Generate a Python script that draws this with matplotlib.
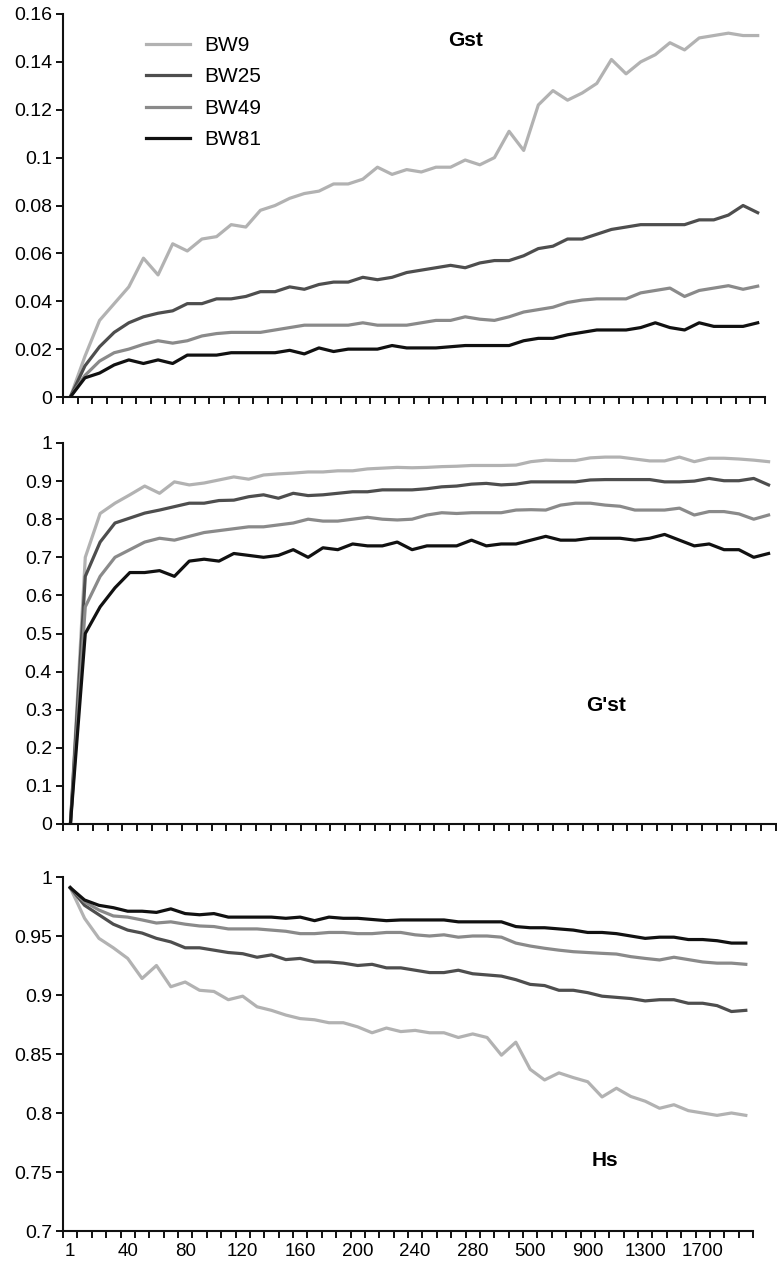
# -*- coding: utf-8 -*-

# Gst, G'st and Hs over generations for four breeding-window sizes

import matplotlib
matplotlib.use("Agg")
import matplotlib.pyplot as plt
import numpy as np

plt.rcParams['font.family'] = ['Liberation Sans', 'DejaVu Sans']

# category axis (generation)
GENERATIONS = [1, 10, 20, 30, 40, 50, 60, 70, 80, 90, 100, 110, 120, 130, 140, 150,
               160, 170, 180, 190, 200, 210, 220, 230, 240, 250, 260, 270, 280, 290, 300,
               400, 500, 600, 700, 800, 900, 1000, 1100, 1200, 1300, 1400, 1500, 1600,
               1700, 1800, 1900, 2000]
LABEL_EVERY = 4

SERIES = ["BW9", "BW25", "BW49", "BW81"]
COLORS = ["#b2b2b2", "#4e4e4e", "#8a8a8a", "#111111"]

gst_bw9 = [0.0, 0.017, 0.032, 0.039, 0.046, 0.058, 0.051, 0.064, 0.061, 0.066, 0.067, 0.072,
           0.071, 0.078, 0.080, 0.083, 0.085, 0.086, 0.089, 0.089, 0.091, 0.096, 0.093, 0.095,
           0.094, 0.096, 0.096, 0.099, 0.097, 0.100, 0.111, 0.103, 0.122, 0.128, 0.124, 0.127,
           0.131, 0.141, 0.135, 0.140, 0.143, 0.148, 0.145, 0.150, 0.151, 0.152, 0.151, 0.151]
gst_bw25 = [0.0, 0.013, 0.021, 0.027, 0.031, 0.0335, 0.035, 0.036, 0.039, 0.039, 0.041, 0.041,
            0.042, 0.044, 0.044, 0.046, 0.045, 0.047, 0.048, 0.048, 0.050, 0.049, 0.050, 0.052,
            0.053, 0.054, 0.055, 0.054, 0.056, 0.057, 0.057, 0.059, 0.062, 0.063, 0.066, 0.066,
            0.068, 0.070, 0.071, 0.072, 0.072, 0.072, 0.072, 0.074, 0.074, 0.076, 0.080, 0.077]
gst_bw49 = [0.0, 0.009, 0.015, 0.0185, 0.020, 0.022, 0.0235, 0.0225, 0.0235, 0.0255, 0.0265, 0.027,
            0.027, 0.027, 0.028, 0.029, 0.030, 0.030, 0.030, 0.030, 0.031, 0.030, 0.030, 0.030,
            0.031, 0.032, 0.032, 0.0335, 0.0325, 0.032, 0.0335, 0.0355, 0.0365, 0.0375, 0.0395, 0.0405,
            0.041, 0.041, 0.041, 0.0435, 0.0445, 0.0455, 0.042, 0.0445, 0.0455, 0.0465, 0.045, 0.0463]
gst_bw81 = [0.0, 0.008, 0.010, 0.0134, 0.0155, 0.014, 0.0155, 0.014, 0.0175, 0.0175, 0.0175, 0.0185,
            0.0185, 0.0185, 0.0185, 0.0195, 0.018, 0.0205, 0.019, 0.020, 0.020, 0.020, 0.0215, 0.0205,
            0.0205, 0.0205, 0.021, 0.0215, 0.0215, 0.0215, 0.0215, 0.0235, 0.0245, 0.0245, 0.026, 0.027,
            0.028, 0.028, 0.028, 0.029, 0.031, 0.029, 0.028, 0.031, 0.0295, 0.0295, 0.0295, 0.031]

gpst_bw9 = [0.0, 0.70, 0.815, 0.842, 0.864, 0.887, 0.868, 0.898, 0.890, 0.895, 0.903, 0.911,
            0.905, 0.916, 0.919, 0.921, 0.924, 0.924, 0.927, 0.927, 0.932, 0.934, 0.936, 0.935,
            0.936, 0.938, 0.939, 0.941, 0.941, 0.941, 0.942, 0.951, 0.955, 0.954, 0.954, 0.961,
            0.963, 0.963, 0.958, 0.953, 0.953, 0.963, 0.951, 0.960, 0.960, 0.958, 0.955, 0.951]
gpst_bw25 = [0.0, 0.65, 0.74, 0.79, 0.803, 0.816, 0.824, 0.833, 0.842, 0.842, 0.849, 0.850,
             0.859, 0.864, 0.855, 0.868, 0.862, 0.864, 0.868, 0.872, 0.872, 0.877, 0.877, 0.877,
             0.880, 0.885, 0.887, 0.892, 0.894, 0.890, 0.892, 0.898, 0.898, 0.898, 0.898, 0.903,
             0.904, 0.904, 0.904, 0.904, 0.898, 0.898, 0.900, 0.907, 0.901, 0.901, 0.907, 0.890]
gpst_bw49 = [0.0, 0.57, 0.65, 0.70, 0.72, 0.74, 0.75, 0.745, 0.755, 0.765, 0.77, 0.775,
             0.78, 0.78, 0.785, 0.79, 0.80, 0.795, 0.795, 0.80, 0.805, 0.80, 0.798, 0.80,
             0.811, 0.817, 0.815, 0.817, 0.817, 0.817, 0.824, 0.825, 0.824, 0.837, 0.842, 0.842,
             0.837, 0.834, 0.824, 0.824, 0.824, 0.829, 0.811, 0.820, 0.820, 0.814, 0.800, 0.811]
gpst_bw81 = [0.0, 0.50, 0.57, 0.62, 0.66, 0.66, 0.665, 0.65, 0.69, 0.695, 0.69, 0.71,
             0.705, 0.70, 0.705, 0.72, 0.70, 0.725, 0.72, 0.735, 0.73, 0.73, 0.74, 0.72,
             0.73, 0.73, 0.73, 0.745, 0.73, 0.735, 0.735, 0.745, 0.755, 0.745, 0.745, 0.75,
             0.75, 0.75, 0.745, 0.75, 0.76, 0.745, 0.73, 0.735, 0.72, 0.72, 0.70, 0.71]

hs_bw9 = [0.991, 0.965, 0.948, 0.940, 0.931, 0.914, 0.925, 0.907, 0.911, 0.904, 0.903, 0.896,
          0.899, 0.890, 0.887, 0.883, 0.880, 0.879, 0.8765, 0.8765, 0.873, 0.868, 0.872, 0.869,
          0.870, 0.868, 0.868, 0.864, 0.867, 0.864, 0.849, 0.860, 0.837, 0.828, 0.834, 0.830,
          0.8265, 0.8136, 0.821, 0.814, 0.810, 0.804, 0.807, 0.802, 0.800, 0.798, 0.800, 0.798]
hs_bw25 = [0.991, 0.976, 0.968, 0.960, 0.955, 0.9525, 0.948, 0.945, 0.940, 0.940, 0.938, 0.936,
           0.935, 0.932, 0.934, 0.930, 0.931, 0.928, 0.928, 0.927, 0.925, 0.926, 0.923, 0.923,
           0.921, 0.919, 0.919, 0.921, 0.918, 0.917, 0.916, 0.913, 0.909, 0.908, 0.904, 0.904,
           0.902, 0.899, 0.898, 0.897, 0.895, 0.896, 0.896, 0.893, 0.893, 0.891, 0.886, 0.887]
hs_bw49 = [0.991, 0.979, 0.972, 0.967, 0.966, 0.9636, 0.961, 0.962, 0.960, 0.9585, 0.958, 0.956,
           0.956, 0.956, 0.955, 0.954, 0.952, 0.952, 0.953, 0.953, 0.952, 0.952, 0.953, 0.953,
           0.951, 0.950, 0.951, 0.949, 0.950, 0.950, 0.949, 0.944, 0.9415, 0.9396, 0.938, 0.9367,
           0.936, 0.9353, 0.9347, 0.9325, 0.931, 0.9297, 0.932, 0.930, 0.928, 0.927, 0.927, 0.926]
hs_bw81 = [0.991, 0.9805, 0.976, 0.974, 0.971, 0.971, 0.970, 0.973, 0.969, 0.968, 0.969, 0.966,
           0.966, 0.966, 0.966, 0.965, 0.966, 0.963, 0.966, 0.965, 0.965, 0.964, 0.963, 0.9636,
           0.9636, 0.9636, 0.9636, 0.962, 0.962, 0.962, 0.962, 0.958, 0.957, 0.957, 0.956, 0.955,
           0.953, 0.953, 0.952, 0.950, 0.948, 0.949, 0.949, 0.947, 0.947, 0.946, 0.944, 0.944]

W, H = 777.0, 1272.0
fig = plt.figure(figsize=(W / 100, H / 100), dpi=100)


def addAxes(left, top, right, bottom):
    # pixel box -> figure fraction
    return fig.add_axes([left / W, 1 - bottom / H, (right - left) / W, (bottom - top) / H])


def drawPanel(ax, data, ylim, yticks, name, namePos, showLabels):
    n = len(GENERATIONS)
    x = np.arange(n)
    lines = []
    for values, label, color in zip(data, SERIES, COLORS):
        l, = ax.plot(x, values, color=color, lw=2.3, label=label, solid_joinstyle='round')
        lines.append(l)

    ax.set_xlim(-0.5, n - 0.5)
    ax.set_ylim(*ylim)
    for s in ['top', 'right']:
        ax.spines[s].set_visible(False)
    for s in ['left', 'bottom']:
        ax.spines[s].set_linewidth(1.5)
        ax.spines[s].set_color('#111111')

    # category boundaries get tick marks, labels sit on every 4th category
    ax.set_xticks(np.arange(-0.5, n, 1.0), minor=True)
    labelIdx = list(range(0, n, LABEL_EVERY))
    ax.set_xticks(labelIdx)
    if showLabels:
        ax.set_xticklabels([str(GENERATIONS[i]) for i in labelIdx])
    else:
        ax.set_xticklabels([])
    ax.tick_params(axis='x', which='major', length=0, pad=9, labelsize=13.5)
    ax.tick_params(axis='x', which='minor', length=5, width=1.4, direction='out', color='#111111')

    ax.set_yticks(yticks)
    ax.set_yticklabels(['%g' % round(t, 3) for t in yticks])
    ax.tick_params(axis='y', length=5, width=1.4, direction='out', pad=3, labelsize=14,
                   color='#111111')

    ax.text(namePos[0], namePos[1], name, transform=ax.transAxes, fontsize=15,
            fontweight='bold', ha='center', va='center')
    return lines


# Gst
ax1 = addAxes(63, 14, 765, 397)
lines = drawPanel(ax1, [gst_bw9, gst_bw25, gst_bw49, gst_bw81], (0, 0.16),
                  list(np.arange(0, 0.161, 0.02)), "Gst", (0.574, 0.932), False)
leg = ax1.legend(handles=lines, loc='upper left', bbox_to_anchor=(0.118, 0.943),
                 frameon=False, fontsize=15, handlelength=2.1, handletextpad=0.7,
                 labelspacing=0.6, borderpad=0, borderaxespad=0)

# G'st
ax2 = addAxes(63, 443, 776, 824)
drawPanel(ax2, [gpst_bw9, gpst_bw25, gpst_bw49, gpst_bw81], (0, 1),
          list(np.arange(0, 1.01, 0.1)), "G'st", (0.762, 0.31), False)

# Hs
ax3 = addAxes(63, 877, 753, 1231)
drawPanel(ax3, [hs_bw9, hs_bw25, hs_bw49, hs_bw81], (0.7, 1),
          list(np.arange(0.7, 1.001, 0.05)), "Hs", (0.786, 0.20), True)

fig.savefig("out.png", dpi=100)
print("Saved out.png")
